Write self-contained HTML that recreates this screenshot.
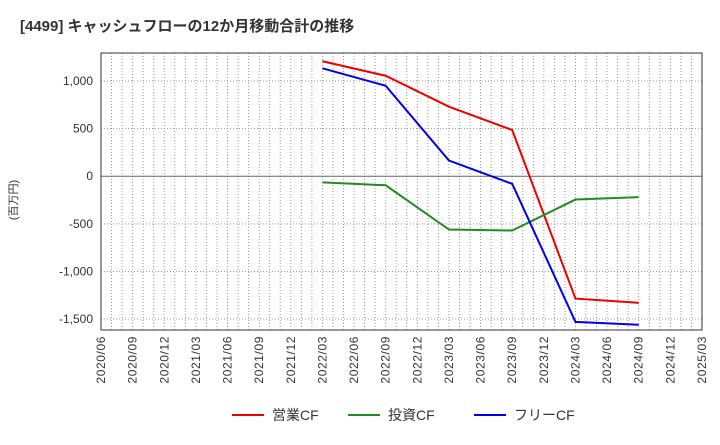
<!DOCTYPE html>
<html><head><meta charset="utf-8"><style>
body{margin:0;background:#fff;font-family:"Liberation Sans","Noto Sans CJK JP",sans-serif}
</style></head><body>
<svg id="c" width="720" height="440" xmlns="http://www.w3.org/2000/svg" font-family="Liberation Sans, Noto Sans CJK JP, sans-serif">
<text x="20" y="31" font-size="15" font-weight="bold" fill="#333">[4499]  キャッシュフローの12か月移動合計の推移</text>
<text transform="translate(17,200) rotate(-90)" font-size="11" fill="#333" text-anchor="middle">(百万円)</text>
<g id="grid"></g><g id="axes"></g><g id="series"></g><g id="legend"></g>
</svg>
<script>
const xLabels=["2020/06","2020/09","2020/12","2021/03","2021/06","2021/09","2021/12","2022/03","2022/06","2022/09","2022/12","2023/03","2023/06","2023/09","2023/12","2024/03","2024/06","2024/09","2024/12","2025/03"];
const yTicks=[1000,500,0,-500,-1000,-1500];
const yTickLabels=["1,000","500","0","-500","-1,000","-1,500"];
const pointIdx=[7,9,11,13,15,17];
const opCF=[1207,1055,730,485,-1285,-1330];
const invCF=[-65,-95,-560,-570,-245,-220];
const freeCF=[1133,950,165,-80,-1530,-1560];
const seriesNames=["営業CF","投資CF","フリーCF"];
const colors=["#e00","#228b22","#00e"];
const L=101,R=702,T=53,B=330,yMax=1294,yMin=-1615;
const ns="http://www.w3.org/2000/svg";
const X=i=>L+(R-L)*i/(xLabels.length-1);
const Y=v=>T+(yMax-v)/(yMax-yMin)*(B-T);
function mk(p,t,a){const e=document.createElementNS(ns,t);for(const k in a)e.setAttribute(k,a[k]);p.appendChild(e);return e;}
const g=document.getElementById('grid'),ax=document.getElementById('axes'),s=document.getElementById('series'),lg=document.getElementById('legend');
for(let m=1;m<(xLabels.length-1)*3;m++){const x=L+(R-L)*m/((xLabels.length-1)*3);
const l=mk(g,'line',{x1:x,x2:x,y1:T,y2:B,stroke:'#999','stroke-dasharray':'1,2','stroke-width':1});
}
yTicks.forEach((v,i)=>{const y=Y(v);
const l=mk(g,'line',{x1:L,x2:R,y1:y,y2:y,stroke:v===0?'#666':'#999','stroke-dasharray':v===0?'':'1,2','stroke-width':1});

const t=mk(ax,'text',{x:L-8,y:y+4,'font-size':12,fill:'#333','text-anchor':'end'});t.textContent=yTickLabels[i];
});
const fr=mk(ax,'rect',{x:L,y:T,width:R-L,height:B-T,fill:'none',stroke:'#333','stroke-width':1});

xLabels.forEach((lab,i)=>{const x=X(i);
const t=mk(ax,'text',{transform:`translate(${x+4},${B+6}) rotate(-90)`,'font-size':12,'letter-spacing':'0.6',fill:'#333','text-anchor':'end'});t.textContent=lab;
});
[opCF,invCF,freeCF].forEach((d,k)=>{const pts=d.map((v,i)=>X(pointIdx[i])+','+Y(v)).join(' ');
const p=mk(s,'polyline',{points:pts,fill:'none',stroke:colors[k],'stroke-width':2});
});
const lx=[232,348,474];
seriesNames.forEach((n,k)=>{
const l=mk(lg,'line',{x1:lx[k],x2:lx[k]+32,y1:415,y2:415,stroke:colors[k],'stroke-width':2});

const t=mk(lg,'text',{x:lx[k]+40,y:420,'font-size':14,fill:'#333'});t.textContent=n;
});
</script>
</body></html>
